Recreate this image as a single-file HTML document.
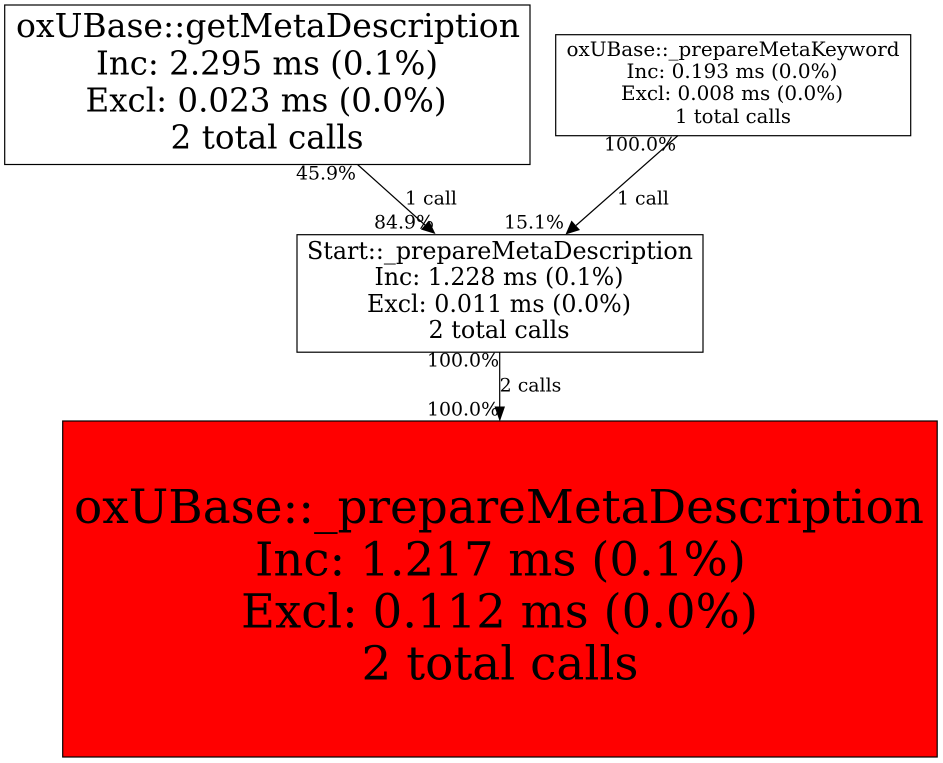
<!DOCTYPE html>
<html><head><meta charset="utf-8"><style>
html,body{margin:0;padding:0;background:#fff;width:943px;height:763px;overflow:hidden}
svg{display:block}
text{font-family:"DejaVu Serif","Liberation Serif",serif;fill:#000;text-anchor:middle}
</style></head><body>
<svg width="943" height="763" viewBox="0 0 943 763" xmlns="http://www.w3.org/2000/svg">
<rect width="943" height="763" fill="#fff"/>
<rect x="4.7" y="5" width="525.3" height="159.5" fill="#fff" stroke="#000" stroke-width="1.2"/>
<g font-size="32.5">
<text x="268" y="37" textLength="504" lengthAdjust="spacingAndGlyphs">oxUBase::getMetaDescription</text>
<text x="267" y="74.5" textLength="342" lengthAdjust="spacingAndGlyphs">Inc: 2.295 ms (0.1%)</text>
<text x="266" y="111.5" textLength="361" lengthAdjust="spacingAndGlyphs">Excl: 0.023 ms (0.0%)</text>
<text x="267" y="148.5" textLength="193" lengthAdjust="spacingAndGlyphs">2 total calls</text>
</g>
<rect x="555.7" y="34.7" width="355" height="101" fill="#fff" stroke="#000" stroke-width="1.2"/>
<g font-size="20">
<text x="733" y="56" textLength="333" lengthAdjust="spacingAndGlyphs">oxUBase::_prepareMetaKeyword</text>
<text x="732" y="78" textLength="211" lengthAdjust="spacingAndGlyphs">Inc: 0.193 ms (0.0%)</text>
<text x="732" y="100" textLength="222" lengthAdjust="spacingAndGlyphs">Excl: 0.008 ms (0.0%)</text>
<text x="733" y="123" textLength="116" lengthAdjust="spacingAndGlyphs">1 total calls</text>
</g>
<rect x="297" y="234.7" width="406" height="117.5" fill="#fff" stroke="#000" stroke-width="1.2"/>
<g font-size="23.8">
<text x="500" y="259" textLength="386" lengthAdjust="spacingAndGlyphs">Start::_prepareMetaDescription</text>
<text x="499" y="285" textLength="249" lengthAdjust="spacingAndGlyphs">Inc: 1.228 ms (0.1%)</text>
<text x="499" y="312" textLength="264" lengthAdjust="spacingAndGlyphs">Excl: 0.011 ms (0.0%)</text>
<text x="499" y="338" textLength="141" lengthAdjust="spacingAndGlyphs">2 total calls</text>
</g>
<rect x="62.7" y="421" width="874.5" height="336" fill="#f00" stroke="#000" stroke-width="1.2"/>
<g font-size="46.8">
<text x="499" y="523" textLength="850" lengthAdjust="spacingAndGlyphs">oxUBase::_prepareMetaDescription</text>
<text x="500.5" y="575.5" textLength="491" lengthAdjust="spacingAndGlyphs">Inc: 1.217 ms (0.1%)</text>
<text x="499.5" y="627.5" textLength="517" lengthAdjust="spacingAndGlyphs">Excl: 0.112 ms (0.0%)</text>
<text x="500" y="679.5" textLength="277" lengthAdjust="spacingAndGlyphs">2 total calls</text>
</g>
<line x1="357.5" y1="164.5" x2="425.5" y2="225.5" stroke="#000" stroke-width="1.2"/>
<polygon points="435.5,234 421,229.5 429,220.5" fill="#000"/>
<line x1="678" y1="135.5" x2="576" y2="225.5" stroke="#000" stroke-width="1.2"/>
<polygon points="565.5,234.5 571.5,220.5 580,230" fill="#000"/>
<line x1="499.7" y1="352" x2="499.7" y2="408" stroke="#000" stroke-width="1.2"/>
<polygon points="499.8,421.5 494.5,406.5 505,406.5" fill="#000"/>
<g font-size="18.9">
<text x="326" y="179.5">45.9%</text>
<text x="431" y="204.5">1 call</text>
<text x="404" y="228.5">84.9%</text>
<text x="640" y="150.5">100.0%</text>
<text x="643" y="204.5">1 call</text>
<text x="534" y="228.5">15.1%</text>
<text x="463" y="366.5">100.0%</text>
<text x="530.5" y="391.5">2 calls</text>
<text x="463" y="415.5">100.0%</text>
</g>
</svg>
</body></html>
